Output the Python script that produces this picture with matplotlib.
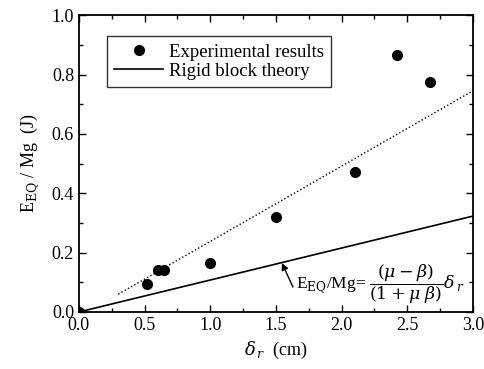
import matplotlib
matplotlib.use("Agg")
import matplotlib.pyplot as plt
from matplotlib.ticker import MultipleLocator

plt.rcParams['font.family'] = ['Liberation Serif', 'DejaVu Serif']
plt.rcParams['mathtext.fontset'] = 'dejavuserif'

# Data
exp_x = [0.0, 0.52, 0.60, 0.65, 1.0, 1.5, 2.1, 2.42, 2.67]
exp_y = [0.0, 0.094, 0.143, 0.142, 0.165, 0.320, 0.472, 0.865, 0.775]
theory_x = [0.0, 3.0]
theory_y = [0.0, 0.323]
fit_x = [0.3, 3.0]
fit_y = [0.06, 0.745]

fig = plt.figure(figsize=(4.84, 3.69), dpi=100)
ax = fig.add_axes([0.163, 0.1545, 0.814, 0.8045])

ax.plot(exp_x, exp_y, 'o', color='black', markersize=7, label='Experimental results', clip_on=True, zorder=3)
ax.plot(theory_x, theory_y, '-', color='black', lw=1.2, label='Rigid block theory')
ax.plot(fit_x, fit_y, ':', color='black', lw=1.0)

ax.set_xlim(0, 3.0)
ax.set_ylim(0, 1.0)
ax.xaxis.set_major_locator(MultipleLocator(0.5))
ax.xaxis.set_minor_locator(MultipleLocator(0.25))
ax.yaxis.set_major_locator(MultipleLocator(0.2))
ax.yaxis.set_minor_locator(MultipleLocator(0.1))
ax.tick_params(which='both', direction='in', top=True, right=True, labelsize=13)
ax.tick_params(which='major', length=5, width=1)
ax.tick_params(which='minor', length=3, width=1)
for s in ax.spines.values():
    s.set_linewidth(1.3)

ax.set_xlabel(r'$\delta_{\,r}$  (cm)', fontsize=13)
ax.set_ylabel(r'E$_{\rm EQ}$ / Mg  (J)', fontsize=13, labelpad=8)

leg = ax.legend(loc='upper left', bbox_to_anchor=(0.071, 0.93), borderaxespad=0,
                fontsize=13.5, frameon=True, fancybox=False, edgecolor='black',
                handlelength=2.6, handletextpad=0.3, borderpad=0.4, labelspacing=0.1)
leg.get_frame().set_linewidth(1.0)

ax.annotate('', xy=(1.546, 0.165), xytext=(1.63, 0.084),
            arrowprops=dict(arrowstyle='-|>', color='black', lw=1.0,
                            mutation_scale=10, shrinkA=0, shrinkB=0))
ax.text(1.65, 0.095,
        r'E$_{\rm EQ}$/Mg= $\dfrac{(\mu-\beta)}{(1+\mu\ \beta)}\delta_{\,r}$',
        fontsize=12.5, ha='left', va='center')

fig.savefig('out.png', dpi=100)
